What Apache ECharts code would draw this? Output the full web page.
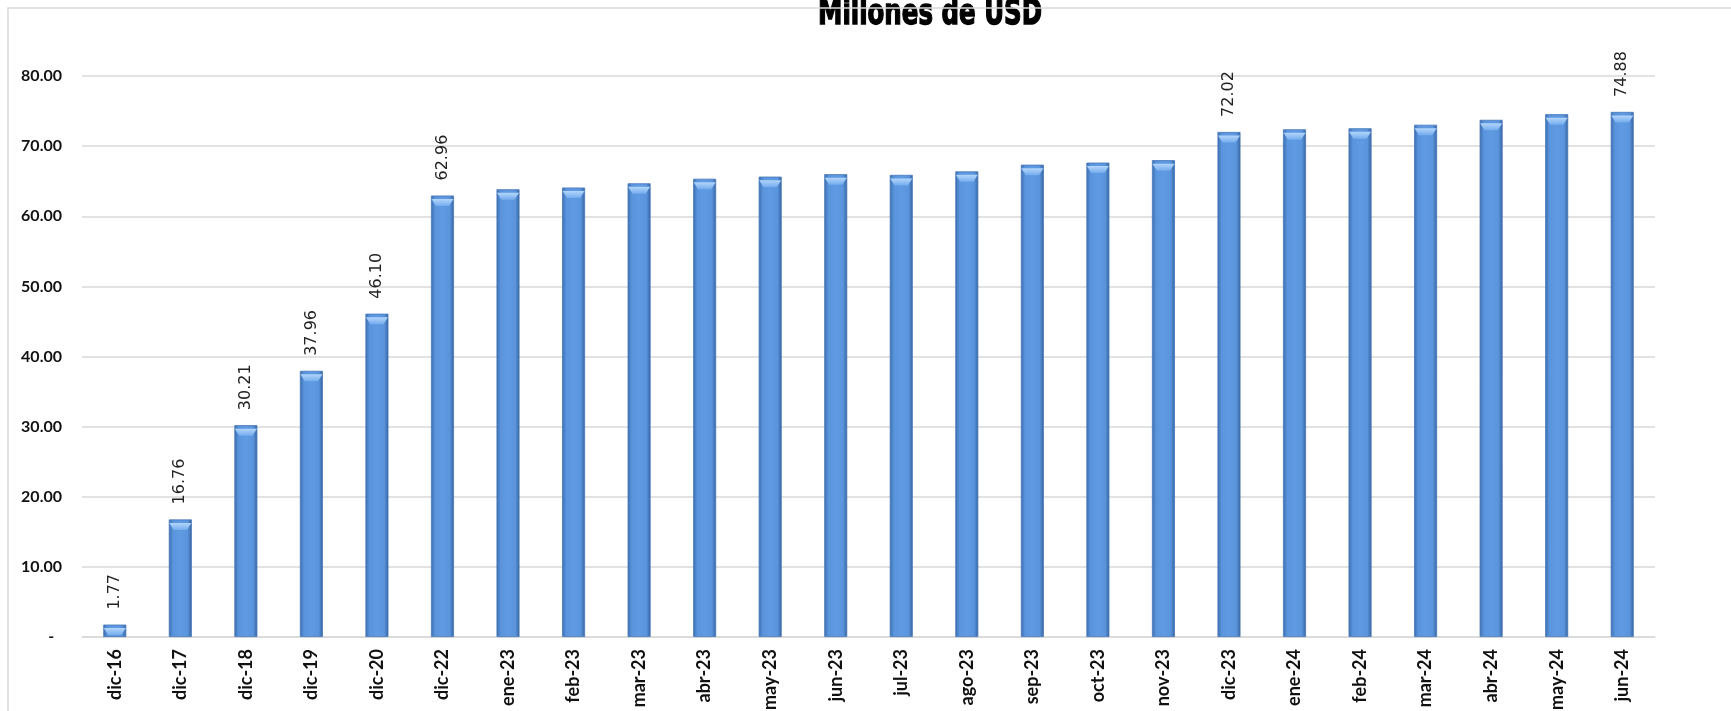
<!DOCTYPE html>
<html lang="es">
<head>
<meta charset="utf-8">
<title>Millones de USD</title>
<style>
html, body { margin: 0; padding: 0; background: #fff; }
#chart { width: 1731px; height: 711px; }
</style>
<script src="https://cdn.jsdelivr.net/npm/echarts@6/dist/echarts.min.js"></script>
</head>
<body>
<div id="chart"></div>
<script>
// datos
var categorias = ['dic-16','dic-17','dic-18','dic-19','dic-20','dic-22','ene-23','feb-23','mar-23','abr-23','may-23','jun-23','jul-23','ago-23','sep-23','oct-23','nov-23','dic-23','ene-24','feb-24','mar-24','abr-24','may-24','jun-24'];
var valores = [1.77, 16.76, 30.21, 37.96, 46.10, 62.96, 63.85, 64.10, 64.70, 65.35, 65.65, 66.00, 65.90, 66.40, 67.35, 67.65, 68.00, 72.02, 72.40, 72.55, 73.05, 73.75, 74.55, 74.88];
// barras que llevan etiqueta
var conEtiqueta = ['dic-16','dic-17','dic-18','dic-19','dic-20','dic-22','dic-23','jun-24'];
var ticksY = [0, 10, 20, 30, 40, 50, 60, 70, 80];

var chart = echarts.init(document.getElementById('chart'));

var ANCHO = 23; // ancho de barra

var barColor = new echarts.graphic.LinearGradient(0, 0, 1, 0, [
  { offset: 0, color: '#3b6cae' },
  { offset: 0.18, color: '#5a94dc' },
  { offset: 0.5, color: '#5f9ae2' },
  { offset: 0.82, color: '#5a94dc' },
  { offset: 1, color: '#35629f' }
]);

var datos = valores.map(function (v, i) {
  return {
    value: v,
    label: { show: conEtiqueta.indexOf(categorias[i]) >= 0 }
  };
});

var option = {
  animation: false,
  backgroundColor: '#fff',
  graphic: [
    {
      type: 'text',
      x: 930, y: 33,
      scaleX: 0.68,
      style: {
        text: 'Millones de USD',
        fill: '#000',
        stroke: '#000',
        lineWidth: 1.5,
        font: '900 36px "DejaVu Sans"',
        textAlign: 'center',
        textVerticalAlign: 'bottom'
      },
      z: 10
    },
    {
      type: 'rect',
      shape: { x: 8, y: 8, width: 2000, height: 2000 },
      style: { fill: 'none', stroke: '#d9d9d9', lineWidth: 1.5 },
      z: 20
    }
  ],
  grid: { left: 82, right: 76, top: 76, bottom: 74, containLabel: false, outerBoundsMode: 'none' },
  xAxis: {
    type: 'category',
    data: categorias,
    axisTick: { show: false },
    axisLine: { lineStyle: { color: '#d9d9d9', width: 1.5 } },
    axisLabel: {
      rotate: 90,
      margin: 12,
      color: '#111',
      fontFamily: 'Lato',
      fontWeight: 'bold',
      fontSize: 18
    }
  },
  yAxis: {
    type: 'value',
    min: ticksY[0],
    max: ticksY[ticksY.length - 1],
    interval: 10,
    axisLine: { show: false },
    axisTick: { show: false },
    splitLine: { lineStyle: { color: '#d9d9d9', width: 1.5 } },
    axisLabel: {
      margin: 20,
      color: '#111',
      fontFamily: 'Lato',
      fontWeight: 'bold',
      fontSize: 16,
      formatter: function (v) { return v === 0 ? '-  ' : v.toFixed(2); }
    }
  },
  series: [
    {
      type: 'bar',
      data: datos,
      barWidth: ANCHO,
      barGap: '-100%',
      itemStyle: { color: barColor, borderColor: '#4677b8', borderWidth: 0.8 },
      label: {
        position: 'top',
        rotate: 90,
        align: 'left',
        verticalAlign: 'middle',
        distance: 15,
        color: '#222',
        fontFamily: 'DejaVu Sans',
        fontSize: 16,
        formatter: function (p) { return p.value.toFixed(2); }
      }
    },
    {
      // bisel claro en la parte superior de cada barra
      type: 'pictorialBar',
      data: valores,
      barWidth: ANCHO,
      barGap: '-100%',
      symbol: 'path://M0,0 L20,0 L16,6 L4,6 Z',
      symbolSize: [ANCHO - 1, 7],
      symbolPosition: 'end',
      symbolOffset: [0, '50%'],
      itemStyle: {
        color: new echarts.graphic.LinearGradient(0, 0, 0, 1, [
          { offset: 0, color: '#b3d6fb' },
          { offset: 1, color: '#74acee' }
        ])
      },
      silent: true,
      z: 3
    }
  ]
};

chart.setOption(option);
</script>
</body>
</html>
